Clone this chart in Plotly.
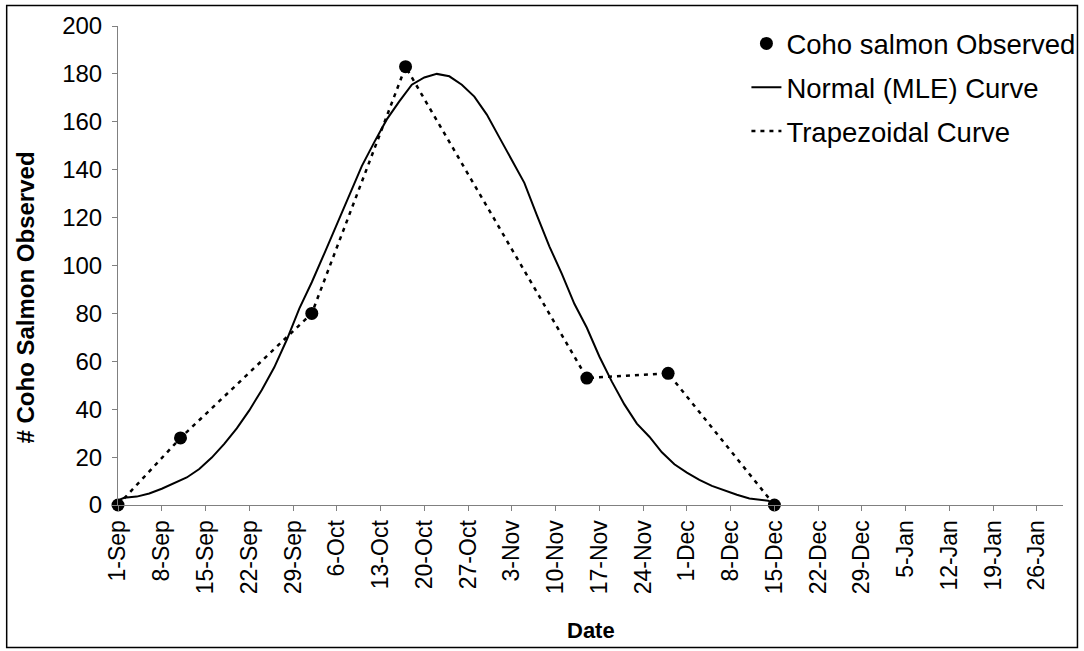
import plotly.graph_objects as go

# Observed counts (also used by the trapezoidal curve)
obs_dates = ["2000-09-01", "2000-09-11", "2000-10-02", "2000-10-17",
             "2000-11-15", "2000-11-28", "2000-12-15"]
obs_values = [0, 28, 80, 183, 53, 55, 0]

# Normal (MLE) curve
normal_dates = ["2000-09-01", "2000-09-02", "2000-09-04", "2000-09-06", "2000-09-08",
                "2000-09-10", "2000-09-12", "2000-09-14", "2000-09-16", "2000-09-18",
                "2000-09-20", "2000-09-22", "2000-09-24", "2000-09-26", "2000-09-28",
                "2000-09-30", "2000-10-02", "2000-10-04", "2000-10-06", "2000-10-08",
                "2000-10-10", "2000-10-12", "2000-10-14", "2000-10-16", "2000-10-18",
                "2000-10-20", "2000-10-22", "2000-10-24", "2000-10-26", "2000-10-28",
                "2000-10-30", "2000-11-01", "2000-11-03", "2000-11-05", "2000-11-07",
                "2000-11-09", "2000-11-11", "2000-11-13", "2000-11-15", "2000-11-17",
                "2000-11-19", "2000-11-21", "2000-11-23", "2000-11-25", "2000-11-27",
                "2000-11-29", "2000-12-01", "2000-12-03", "2000-12-05", "2000-12-07",
                "2000-12-09", "2000-12-11", "2000-12-13", "2000-12-14", "2000-12-15"]
normal_values = [2, 3, 3.5, 4.8, 6.8,
                 9, 11.5, 15, 19.8, 25.5,
                 32, 39.5, 48, 57.5, 69,
                 82, 93, 105, 117, 129,
                 141.5, 151.5, 161, 168.5, 175.5,
                 178.5, 180, 179, 175.5, 170.5,
                 163, 153.5, 144, 134.5, 121,
                 108, 96.5, 84, 74, 62,
                 51.5, 42, 34, 28.5, 22,
                 17, 13.5, 10.5, 8, 6,
                 4.3, 2.7, 2, 1.8, 0.5]

tick_dates = ["2000-09-01", "2000-09-08", "2000-09-15", "2000-09-22", "2000-09-29",
              "2000-10-06", "2000-10-13", "2000-10-20", "2000-10-27", "2000-11-03",
              "2000-11-10", "2000-11-17", "2000-11-24", "2000-12-01", "2000-12-08",
              "2000-12-15", "2000-12-22", "2000-12-29", "2001-01-05", "2001-01-12",
              "2001-01-19", "2001-01-26"]
tick_labels = ["1-Sep", "8-Sep", "15-Sep", "22-Sep", "29-Sep", "6-Oct", "13-Oct",
               "20-Oct", "27-Oct", "3-Nov", "10-Nov", "17-Nov", "24-Nov", "1-Dec",
               "8-Dec", "15-Dec", "22-Dec", "29-Dec", "5-Jan", "12-Jan", "19-Jan",
               "26-Jan"]
y_ticks = [0, 20, 40, 60, 80, 100, 120, 140, 160, 180, 200]

FONT = "Liberation Sans, Arial, sans-serif"
AXIS_GRAY = "#808080"

fig = go.Figure()
fig.add_trace(go.Scatter(
    x=normal_dates, y=normal_values, mode="lines", name="Normal (MLE) Curve",
    line=dict(color="black", width=2), legendrank=2, legendgroup="b"))
fig.add_trace(go.Scatter(
    x=obs_dates, y=obs_values, mode="lines", name="Trapezoidal Curve",
    line=dict(color="black", width=2.5, dash="4px,5px"), legendrank=3,
    legendgroup="c"))
fig.add_trace(go.Scatter(
    x=obs_dates, y=obs_values, mode="markers", name="Coho salmon Observed",
    marker=dict(color="black", size=13), cliponaxis=False, legendrank=1,
    legendgroup="a"))

fig.update_layout(
    width=1084, height=651, autosize=False,
    margin=dict(l=118, r=21, t=26, b=146, autoexpand=False),
    paper_bgcolor="white", plot_bgcolor="white",
    font=dict(family=FONT, color="black", size=23),
    showlegend=True,
    legend=dict(x=0.665, y=1.0146, xanchor="left", yanchor="top",
                bgcolor="rgba(0,0,0,0)", font=dict(size=27.5, family=FONT),
                traceorder="grouped", tracegroupgap=5),
    xaxis=dict(type="date", range=["2000-09-01", "2001-01-30 04:00"],
               tickmode="array", tickvals=tick_dates, ticktext=tick_labels,
               tickangle=-90, ticks="outside", ticklen=5, tickcolor=AXIS_GRAY,
               showline=True, linecolor=AXIS_GRAY, linewidth=1,
               showgrid=False, zeroline=False, tickfont=dict(size=23)),
    yaxis=dict(range=[0, 200], tickmode="array", tickvals=y_ticks,
               ticks="outside", ticklen=5, tickcolor=AXIS_GRAY,
               showline=True, linecolor=AXIS_GRAY, linewidth=1,
               showgrid=False, zeroline=False, tickfont=dict(size=24),
               ticklabelstandoff=5),
    annotations=[
        dict(text="<b>Date</b>", xref="paper", yref="paper", x=0.5, y=-0.261,
             showarrow=False, font=dict(size=22, family=FONT),
             xanchor="center", yanchor="middle"),
        dict(text="<b># Coho Salmon Observed</b>", xref="paper", yref="paper",
             x=-0.098, y=0.434, textangle=-90, showarrow=False,
             font=dict(size=24, family=FONT), xanchor="center", yanchor="middle"),
    ],
    shapes=[dict(type="rect", xref="paper", yref="paper",
                 x0=-0.1178, x1=1.0153, y0=-0.2975, y1=1.0428,
                 line=dict(color="black", width=1.5), fillcolor="rgba(0,0,0,0)",
                 layer="below")],
)

fig.write_html("out.html")
